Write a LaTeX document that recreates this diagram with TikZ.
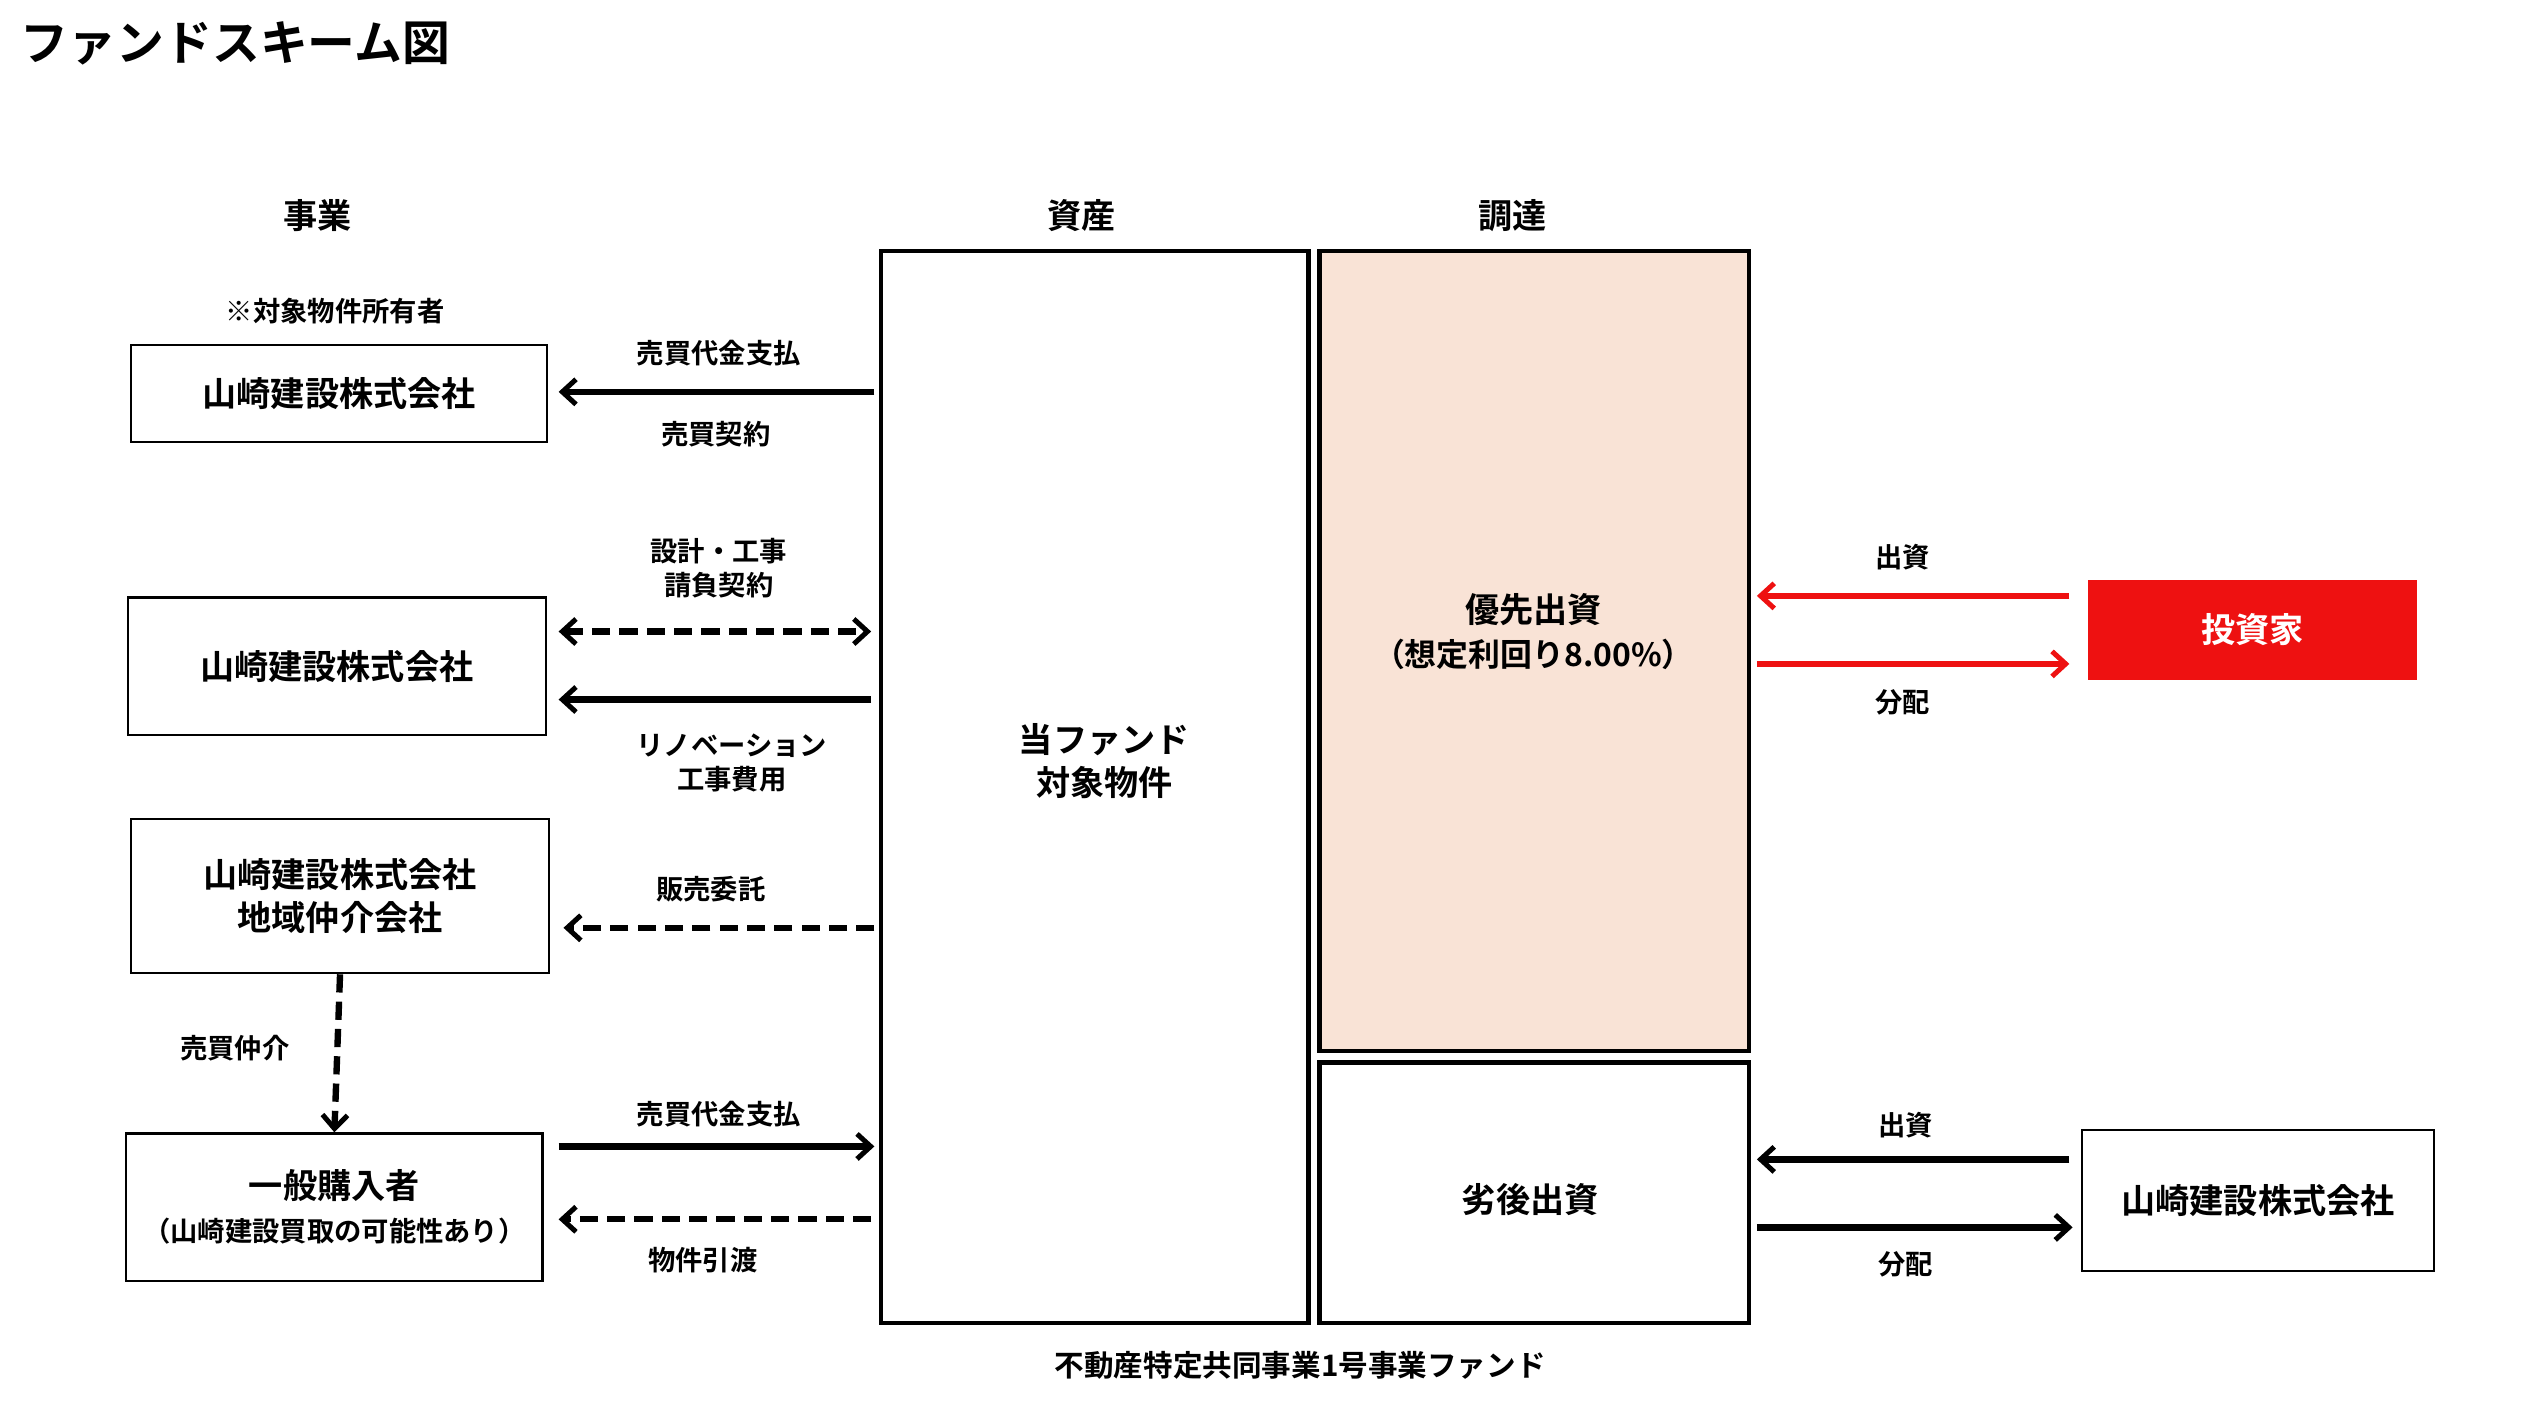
\documentclass[tikz,border=0pt]{standalone}
\usepackage{fontspec}
\setmainfont{Noto Sans CJK JP}[BoldFont={* Bold}]
\usetikzlibrary{arrows.meta}
\definecolor{prefcol}{HTML}{F9E3D6}
\definecolor{invred}{HTML}{EE1111}
\tikzset{
  box/.style={draw,line width=1pt,align=center,font=\fontsize{15}{19}\selectfont\bfseries},
  bigbox/.style={draw,line width=2pt},
  lbl/.style={font=\fontsize{12}{15}\selectfont\bfseries,align=center},
  flow/.style={line width=2.8pt,-{Straight Barb[length=6pt,width=11pt,line width=2.2pt]}},
  dflow/.style={flow,dash pattern=on 8pt off 4pt}
}
\begin{document}
\begin{tikzpicture}[x=0.025cm,y=-0.025cm]
    \useasboundingbox (0,0) rectangle (1560,875);
    \node[anchor=west,font=\fontsize{21}{25}\selectfont\bfseries] (title) at (8,27) {ファンドスキーム図};
    \node[lbl,font=\fontsize{15}{19}\selectfont\bfseries] (hbiz) at (196,133) {事業};
    \node[lbl,font=\fontsize{15}{19}\selectfont\bfseries] (hasset) at (668,133) {資産};
    \node[lbl,font=\fontsize{15}{19}\selectfont\bfseries] (hfund) at (934,133) {調達};

    % fund boxes
    \draw[bigbox] (544,155) rectangle (808,817);
    \node[box,draw=none] (asset) at (682,470) {当ファンド\\対象物件};
    \draw[bigbox,fill=prefcol] (815,155) rectangle (1080,649);
    \node[box,draw=none] (pref) at (947,390) {優先出資\\\fontsize{14}{17}\selectfont（想定利回り8.00\%）};
    \draw[bigbox] (815,656) rectangle (1080,817);
    \node[box,draw=none] (sub) at (945,741) {劣後出資};
    \node[lbl,font=\fontsize{13}{16}\selectfont\bfseries] (fundname) at (803,843) {不動産特定共同事業1号事業ファンド};

    % left side
    \node[lbl] (note) at (207,192) {※対象物件所有者};
    \node[box,minimum width=257*0.025cm,minimum height=60*0.025cm] (owner) at (209.5,243) {山崎建設株式会社};
    \node[box,minimum width=258*0.025cm,minimum height=85*0.025cm] (builder) at (208,411.5) {山崎建設株式会社};
    \node[box,minimum width=258*0.025cm,minimum height=95*0.025cm] (agent) at (210,553.5) {山崎建設株式会社\\地域仲介会社};
    \node[box,minimum width=257*0.025cm,minimum height=91*0.025cm] (buyer) at (206.5,745.5) {一般購入者\\\fontsize{12}{16}\selectfont（山崎建設買取の可能性あり）};

    % right side
    \node[box,draw=invred,fill=invred,text=white,minimum width=202*0.025cm,minimum height=60*0.025cm] (investor) at (1391,389) {投資家};
    \node[box,minimum width=217*0.025cm,minimum height=87*0.025cm] (sponsor) at (1394.5,741.5) {山崎建設株式会社};

    % arrow ends
    \coordinate (a1) at (540,242);  \coordinate (b1) at (345,242);
    \coordinate (a2) at (538,390);  \coordinate (b2) at (345,390);
    \coordinate (a3) at (538,432);  \coordinate (b3) at (345,432);
    \coordinate (a4) at (540,573);  \coordinate (b4) at (348,573);
    \coordinate (a5) at (540,708);  \coordinate (b5) at (345,708);
    \coordinate (a6) at (538,753);  \coordinate (b6) at (345,753);
    \coordinate (r1) at (1278,368); \coordinate (p1) at (1085,368);
    \coordinate (r2) at (1278,410); \coordinate (p2) at (1085,410);
    \coordinate (r3) at (1278,716); \coordinate (s3) at (1085,716);
    \coordinate (r4) at (1280,758); \coordinate (s4) at (1085,758);

    \draw[flow] (a1) -- (b1);
    \draw[dflow,{Straight Barb[length=6pt,width=11pt,line width=2.2pt]}-{Straight Barb[length=6pt,width=11pt,line width=2.2pt]}] (b2) -- (a2);
    \draw[flow] (a3) -- (b3);
    \draw[dflow] (a4) -- (b4);
    \draw[dflow] (agent.south) -- (buyer.north);
    \draw[flow] (b5) -- (a5);
    \draw[dflow] (a6) -- (b6);
    \draw[flow,invred] (r1) -- (p1);
    \draw[flow,invred] (p2) -- (r2);
    \draw[flow] (r3) -- (s3);
    \draw[flow] (s4) -- (r4);

    \node[lbl] (l1) at (444,218) {売買代金支払};
    \node[lbl] (l2) at (442,268) {売買契約};
    \node[lbl] (l3) at (444,351) {設計・工事\\請負契約};
    \node[lbl] (l4) at (452,471) {リノベーション\\工事費用};
    \node[lbl] (l5) at (439,549) {販売委託};
    \node[lbl] (l6) at (145,647) {売買仲介};
    \node[lbl] (l7) at (444,688) {売買代金支払};
    \node[lbl] (l8) at (434,778) {物件引渡};
    \node[lbl] (l9) at (1175,344) {出資};
    \node[lbl] (l10) at (1175,434) {分配};
    \node[lbl] (l11) at (1177,695) {出資};
    \node[lbl] (l12) at (1177,781) {分配};
\end{tikzpicture}
\end{document}
